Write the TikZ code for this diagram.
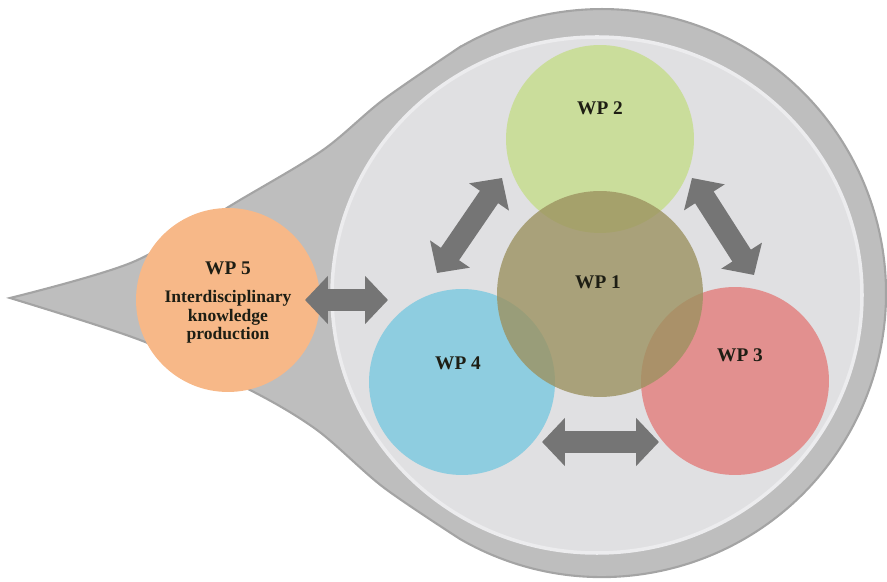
\documentclass[tikz,border=0pt]{standalone}
\usepackage{fontspec}
\setmainfont{Liberation Serif}
\usetikzlibrary{arrows.meta}
\definecolor{rimgray}{HTML}{BEBEBE}
\definecolor{rimedge}{HTML}{A4A4A4}
\definecolor{discgray}{HTML}{E0E0E2}
\definecolor{discedge}{HTML}{ECECEE}
\definecolor{wpgreen}{HTML}{CADD9B}
\definecolor{wpolive}{HTML}{9C9260}
\definecolor{wpred}{HTML}{E2908F}
\definecolor{wpblue}{HTML}{8ECDE0}
\definecolor{wporange}{HTML}{F7B888}
\definecolor{arrowgray}{HTML}{757575}
\definecolor{wpink}{HTML}{1E1E14}
\begin{document}
\begin{tikzpicture}[x=0.02cm,y=0.02cm,
  wp/.style={circle,minimum size=#1,inner sep=0pt},
  wptext/.style={font=\fontsize{11}{12}\selectfont\bfseries,text=wpink},
  twoway/.style={draw=arrowgray,line width=0.44cm,
    {Triangle[length=0.46cm,width=0.94cm]}-{Triangle[length=0.46cm,width=0.94cm]}}]
\useasboundingbox (0,0) rectangle (887,582);
% teardrop and disc
\filldraw[fill=rimgray,draw=rimedge,line width=1.2pt]
  plot[smooth] coordinates {(460,535) (383,482) (323,432) (240,382) (133,320) (10,284)}
  -- plot[smooth] coordinates {(10,284) (140,242) (250,192) (317,152) (383,95) (460,43)}
  arc[start angle=-120,end angle=120,radius=284] -- cycle;
\filldraw[fill=discgray,draw=discedge,line width=2pt] (597,287) ellipse[x radius=265,y radius=258];
% work packages
\node[wp=3.76cm,fill=wpgreen] (wp2) at (600,443) {};
\node[wp=3.72cm,fill=wpblue] (wp4) at (462,200) {};
\node[wp=3.76cm,fill=wpred] (wp3) at (735,201) {};
\node[wp=4.12cm,fill=wpolive,fill opacity=0.8] (wp1) at (600,288) {};
\node[wp=3.68cm,fill=wporange] (wp5) at (228,282) {};
\node[wptext] (wp2text) at (600,474) {WP 2};
\node[wptext] (wp1text) at (598,300) {WP 1};
\node[wptext] (wp4text) at (458,219) {WP 4};
\node[wptext] (wp3text) at (740,227) {WP 3};
\node[wptext] (wp5text) at (228,314) {WP 5};
\node[align=center,font=\fontsize{10}{10.5}\selectfont\bfseries,text=wpink] (wp5desc) at (228,265)
  {Interdisciplinary\\knowledge\\production};
% arrows
\coordinate (wp5end) at (305,282);
\coordinate (wp4endA) at (388,282);
\coordinate (wp4endB) at (542,140);
\coordinate (wp3endB) at (659,140);
\coordinate (wp4endC) at (437,309);
\coordinate (wp2endC) at (502,404);
\coordinate (wp2endD) at (692,404);
\coordinate (wp3endD) at (754,307);
\draw[twoway] (wp5end) -- (wp4endA);
\draw[twoway] (wp4endB) -- (wp3endB);
\draw[twoway] (wp4endC) -- (wp2endC);
\draw[twoway] (wp2endD) -- (wp3endD);
\end{tikzpicture}
\end{document}
